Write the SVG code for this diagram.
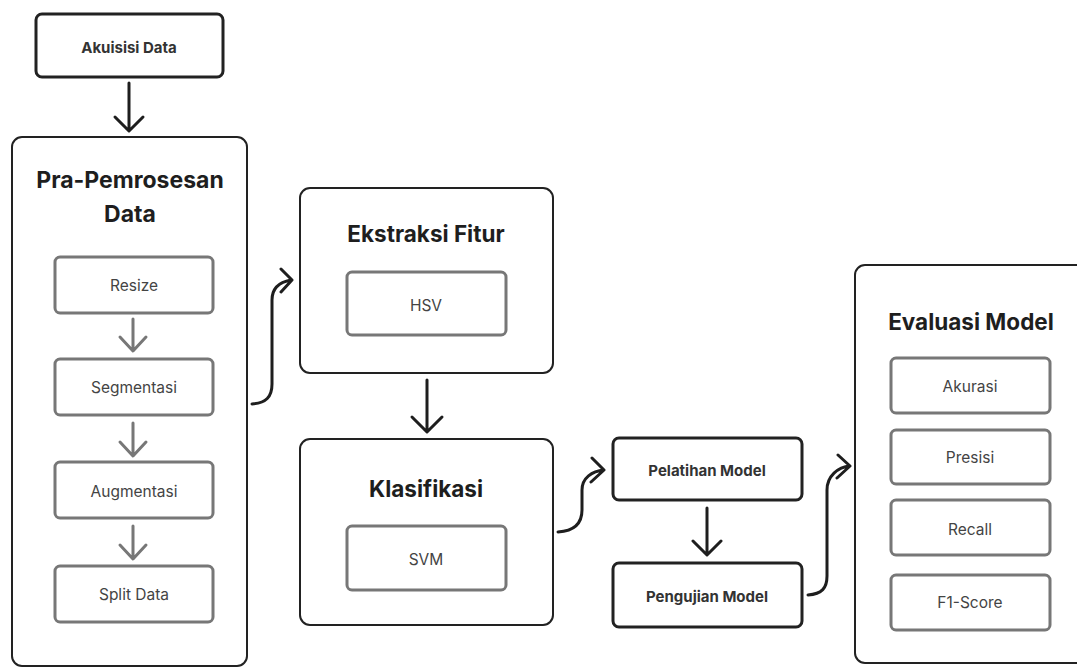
<svg xmlns="http://www.w3.org/2000/svg" width="1077" height="669" viewBox="0 0 1077 669">
<style>
.bg{fill:#ffffff}
.cont{fill:#fff;stroke:#222;stroke-width:2}
.step{fill:#fff;stroke:#222;stroke-width:3}
.sub{fill:#fff;stroke:#777;stroke-width:3}
.title{font-family:Inter,"Liberation Sans",sans-serif;font-weight:700;fill:#1e1e1e;text-anchor:middle}
.stepT{font-family:Inter,"Liberation Sans",sans-serif;font-weight:700;font-size:15px;fill:#333;text-anchor:middle}
.subT{font-family:Inter,"Liberation Sans",sans-serif;font-size:15.5px;fill:#444;text-anchor:middle}
.conn{fill:none;stroke:#1e1e1e;stroke-width:3;stroke-linecap:round;stroke-linejoin:round}
.connG{fill:none;stroke:#777;stroke-width:3;stroke-linecap:round;stroke-linejoin:round}
</style>
<rect class="bg" x="0" y="0" width="1077" height="669"/>

<g id="akuisisi">
<rect class="step" x="36" y="14" width="187" height="63" rx="6"/>
<text class="stepT" x="129" y="53">Akuisisi Data</text>
</g>

<g id="prapemrosesan">
<rect class="cont" x="12" y="137" width="235" height="529" rx="10"/>
<text class="title" x="130" y="188" font-size="23">Pra-Pemrosesan</text>
<text class="title" x="130" y="222" font-size="23">Data</text>
</g>
<g id="resize"><rect class="sub" x="55" y="257" width="158" height="56" rx="5"/><text class="subT" x="134" y="291">Resize</text></g>
<g id="segmentasi"><rect class="sub" x="55" y="359" width="158" height="56" rx="5"/><text class="subT" x="134" y="393">Segmentasi</text></g>
<g id="augmentasi"><rect class="sub" x="55" y="462" width="158" height="56" rx="5"/><text class="subT" x="134" y="497">Augmentasi</text></g>
<g id="splitdata"><rect class="sub" x="55" y="566" width="158" height="56" rx="5"/><text class="subT" x="134" y="600">Split Data</text></g>

<g id="ekstraksi">
<rect class="cont" x="300" y="188" width="253" height="185" rx="10"/>
<text class="title" x="426" y="242" font-size="22.5">Ekstraksi Fitur</text>
</g>
<g id="hsv"><rect class="sub" x="347" y="272" width="159" height="63" rx="5"/><text class="subT" x="426" y="311">HSV</text></g>

<g id="klasifikasi">
<rect class="cont" x="300" y="439" width="253" height="186" rx="10"/>
<text class="title" x="426" y="497" font-size="22.5">Klasifikasi</text>
</g>
<g id="svm"><rect class="sub" x="347" y="526" width="159" height="64" rx="5"/><text class="subT" x="426" y="565">SVM</text></g>

<g id="pelatihan">
<rect class="step" x="613" y="438" width="189" height="62" rx="6"/>
<text class="stepT" x="707" y="476">Pelatihan Model</text>
</g>
<g id="pengujian">
<rect class="step" x="613" y="563" width="189" height="64" rx="6"/>
<text class="stepT" x="707" y="602">Pengujian Model</text>
</g>

<g id="evaluasi">
<rect class="cont" x="855" y="265" width="240" height="398" rx="10"/>
<text class="title" x="971" y="330" font-size="22.5">Evaluasi Model</text>
</g>
<g id="akurasi"><rect class="sub" x="891" y="358" width="159" height="55" rx="5"/><text class="subT" x="970" y="392">Akurasi</text></g>
<g id="presisi"><rect class="sub" x="891" y="430" width="159" height="54" rx="5"/><text class="subT" x="970" y="463">Presisi</text></g>
<g id="recall"><rect class="sub" x="891" y="500" width="159" height="55" rx="5"/><text class="subT" x="970" y="535">Recall</text></g>
<g id="f1score"><rect class="sub" x="891" y="575" width="159" height="55" rx="5"/><text class="subT" x="970" y="608">F1-Score</text></g>

<g id="connectors">
<path class="conn" d="M129,83 L129,130 M115,117 L129,131 L143,117"/>
<path class="connG" d="M133,319 L133,350 M120,337 L133,351 L146,337"/>
<path class="connG" d="M133,423 L133,455 M120,442 L133,456 L146,442"/>
<path class="connG" d="M133,526 L133,558 M120,545 L133,559 L146,545"/>
<path class="conn" d="M252,404 C266,403 272,397 272,384 L272,300 C272,288 280,282 291,280 M281,269 L292,280 L281,292"/>
<path class="conn" d="M427,380 L427,431 M412,417 L427,432 L442,417"/>
<path class="conn" d="M558,532 C574,531 582,524 582,510 L582,490 C582,478 592,471 604,470 M592,458 L604,470 L591,482"/>
<path class="conn" d="M707,508 L707,554 M693,541 L707,555 L721,541"/>
<path class="conn" d="M808,595 C822,594 827,588 827,576 L827,490 C827,476 838,467 850,466 M838,455 L850,466 L837,478"/>
</g>
</svg>
